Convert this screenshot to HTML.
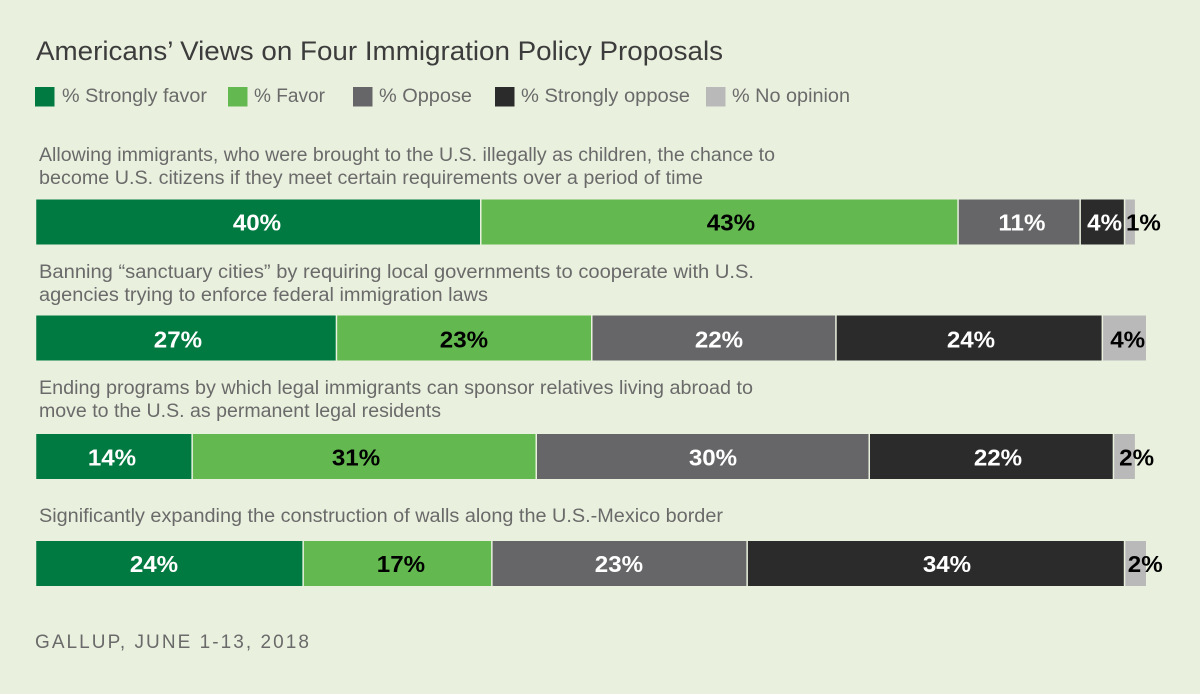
<!DOCTYPE html>
<html lang="en">
<head>
<meta charset="utf-8">
<title>Americans' Views on Four Immigration Policy Proposals</title>
<style>
html,body{margin:0;padding:0;background:#e9f1de;}
#chart{display:block;width:1200px;height:694px;font-family:"Liberation Sans",sans-serif;}
</style>
</head>
<body>
<svg id="chart" xmlns="http://www.w3.org/2000/svg" width="1200" height="694" viewBox="0 0 1200 694">
  <rect x="0" y="0" width="1200" height="694" fill="#e9f1de"/>
  <text x="36" y="60" font-size="27" fill="#3c3c3c" textLength="687" lengthAdjust="spacingAndGlyphs">Americans’ Views on Four Immigration Policy Proposals</text>

  <g>
    <g>
      <rect x="35" y="87" width="19.500" height="19.500" fill="#007a40"/>
      <text x="62" y="102" font-size="19" fill="#6a6a6a" textLength="145" lengthAdjust="spacingAndGlyphs">% Strongly favor</text>
    </g>
    <g>
      <rect x="228" y="87" width="19.500" height="19.500" fill="#63b950"/>
      <text x="254" y="102" font-size="19" fill="#6a6a6a" textLength="71" lengthAdjust="spacingAndGlyphs">% Favor</text>
    </g>
    <g>
      <rect x="353" y="87" width="19.500" height="19.500" fill="#666668"/>
      <text x="379" y="102" font-size="19" fill="#6a6a6a" textLength="93" lengthAdjust="spacingAndGlyphs">% Oppose</text>
    </g>
    <g>
      <rect x="495" y="87" width="19.500" height="19.500" fill="#2b2b2b"/>
      <text x="521" y="102" font-size="19" fill="#6a6a6a" textLength="169" lengthAdjust="spacingAndGlyphs">% Strongly oppose</text>
    </g>
    <g>
      <rect x="706" y="87" width="19.500" height="19.500" fill="#b9b9b9"/>
      <text x="732" y="102" font-size="19" fill="#6a6a6a" textLength="118" lengthAdjust="spacingAndGlyphs">% No opinion</text>
    </g>
  </g>

  <g font-size="19" fill="#6a6a6a">
    <text x="39" y="161" textLength="736" lengthAdjust="spacingAndGlyphs">Allowing immigrants, who were brought to the U.S. illegally as children, the chance to</text>
    <text x="39" y="184" textLength="664" lengthAdjust="spacingAndGlyphs">become U.S. citizens if they meet certain requirements over a period of time</text>
    <text x="39" y="278" textLength="715" lengthAdjust="spacingAndGlyphs">Banning “sanctuary cities” by requiring local governments to cooperate with U.S.</text>
    <text x="39" y="301" textLength="449" lengthAdjust="spacingAndGlyphs">agencies trying to enforce federal immigration laws</text>
    <text x="39" y="394" textLength="714" lengthAdjust="spacingAndGlyphs">Ending programs by which legal immigrants can sponsor relatives living abroad to</text>
    <text x="39" y="417" textLength="402" lengthAdjust="spacingAndGlyphs">move to the U.S. as permanent legal residents</text>
    <text x="39" y="522" textLength="684" lengthAdjust="spacingAndGlyphs">Significantly expanding the construction of walls along the U.S.-Mexico border</text>
  </g>

  <g id="bars"></g>

  <text x="35" y="648" font-size="19" fill="#6a6a6a" textLength="274" lengthAdjust="spacing">GALLUP, JUNE 1-13, 2018</text>
</svg>

<script>
const categories = ["allow-dreamers", "ban-sanctuary-cities", "end-family-sponsorship", "expand-border-walls"];
const seriesNames = ["strongly-favor", "favor", "oppose", "strongly-oppose", "no-opinion"];
const stronglyFavor = [40, 27, 14, 24];
const favor = [43, 23, 31, 17];
const oppose = [11, 22, 30, 23];
const stronglyOppose = [4, 24, 22, 34];
const noOpinion = [1, 4, 2, 2];

const series = [stronglyFavor, favor, oppose, stronglyOppose, noOpinion];

const layout = {
  fills: ["#007a40", "#63b950", "#666668", "#2b2b2b", "#b9b9b9"],
  textFills: ["#ffffff", "#000000", "#ffffff", "#ffffff", "#000000"],
  rows: [
    { top: 199.5, baseline: 8.5, nudge: [-1, 12.3, 3.6, 3, 2.2] },
    { top: 315.5, baseline: 9.4, nudge: [-7.9, 0.6, 5.9, 2.6, 3.9] },
    { top: 434, baseline: 9, nudge: [-1.7, -7.4, 11, 7.4, 6.5] },
    { top: 541, baseline: 8.5, nudge: [-15.2, 4.2, 0.2, 11.9, 4] }
  ],
  barHeight: 45,
  gap: 1.5
};

const svgNS = "http://www.w3.org/2000/svg";
const group = document.getElementById("bars");

function xScale(v) {
  return 36 + v * 11.1;
}

categories.forEach(function (category, row) {
  const rowLayout = layout.rows[row];
  let cumulative = 0;
  series.forEach(function (values, s) {
    const v = values[row];
    const x0 = xScale(cumulative);
    const x1 = xScale(cumulative + v);
    cumulative += v;

    const inset = s === 0 ? 0.25 : layout.gap;
    const rect = document.createElementNS(svgNS, "rect");
    
    
    rect.setAttribute("x", x0 + inset);
    rect.setAttribute("y", rowLayout.top);
    rect.setAttribute("width", Math.max(0, x1 - x0 - inset));
    rect.setAttribute("height", layout.barHeight);
    rect.setAttribute("fill", layout.fills[s]);
    group.appendChild(rect);

    const label = document.createElementNS(svgNS, "text");
    
    
    const startAnchored = s === 4 && v <= 2;
    label.setAttribute("x", (startAnchored ? x0 : (x0 + x1) / 2) + rowLayout.nudge[s]);
    label.setAttribute("y", rowLayout.top + layout.barHeight / 2 + rowLayout.baseline);
    label.setAttribute("text-anchor", startAnchored ? "start" : "middle");
    label.setAttribute("font-size", "23");
    label.setAttribute("font-weight", "bold");
    label.setAttribute("fill", layout.textFills[s]);
    label.textContent = v + "%";
    group.appendChild(label);
    const width = label.getComputedTextLength();
    label.setAttribute("textLength", (width * 1.05).toFixed(1));
    label.setAttribute("lengthAdjust", "spacingAndGlyphs");
  });
});
</script>
</body>
</html>
